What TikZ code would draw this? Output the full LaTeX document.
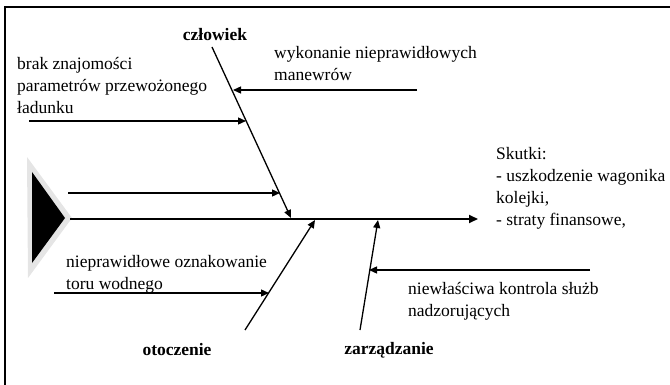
\documentclass[tikz,border=0pt]{standalone}
\usepackage{fontspec}
\setmainfont{Liberation Serif}
\usetikzlibrary{arrows.meta}
\begin{document}
\begin{tikzpicture}[x=1pt,y=-1pt,
  txt/.style={font=\fontsize{17.5}{22}\selectfont, align=left, inner sep=0pt, anchor=north west},
  cat/.style={font=\fontsize{17.5}{22}\selectfont\bfseries, inner sep=0pt},
  arr/.style={line width=1.3pt, -{Triangle[length=8pt,width=7pt]}},
  spine/.style={line width=2pt, -{Triangle[length=9pt,width=8pt]}},
  frame/.style={line width=1.5pt}]
\useasboundingbox (0,0) rectangle (670,385);
% frame (top and left visible)
\draw[frame] (670,7) -- (5,7) -- (5,385);
% head triangle with light shadow
\fill[black!10] (27,157) -- (72,218) -- (28,278) -- cycle;
\fill[black] (32,172) -- (65,218) -- (32,263) -- cycle;
% coordinates
\coordinate (spS) at (70,219);
\coordinate (spE) at (478,219);
\coordinate (c1) at (212,47);
\coordinate (c2) at (291,218);
\coordinate (o1) at (245,330);
\coordinate (o2) at (315,220);
\coordinate (z1) at (360,330);
\coordinate (z2) at (378,220);
\coordinate (aW) at (417,90);
\coordinate (aWe) at (233,90);
\coordinate (aB) at (29,121);
\coordinate (aBe) at (246,121);
\coordinate (aM) at (68,193);
\coordinate (aMe) at (280,193);
\coordinate (aN) at (54,293);
\coordinate (aNe) at (269,293);
\coordinate (aK) at (590,270);
\coordinate (aKe) at (369,270);
% spine and bones
\draw[spine] (spS) -- (spE);
\draw[arr] (c1) -- (c2);
\draw[arr] (o1) -- (o2);
\draw[arr] (z1) -- (z2);
% cause arrows
\draw[arr] (aW) -- (aWe);
\draw[arr] (aB) -- (aBe);
\draw[arr] (aM) -- (aMe);
\draw[arr] (aN) -- (aNe);
\draw[arr] (aK) -- (aKe);
% labels
\node[cat] (lc) at (215,35) {człowiek};
\node[cat] (lo) at (177,350) {otoczenie};
\node[cat] (lz) at (389,350) {zarządzanie};
\node[txt] (tB) at (17,57) {brak znajomości\\parametrów przewożonego\\ładunku};
\node[txt] (tW) at (274,46) {wykonanie nieprawidłowych\\manewrów};
\node[txt] (tS) at (496,147) {Skutki:\\- uszkodzenie wagonika\\kolejki,\\- straty finansowe,};
\node[txt] (tN) at (66,255) {nieprawidłowe oznakowanie\\toru wodnego};
\node[txt] (tK) at (408,282) {niewłaściwa kontrola służb\\nadzorujących};
\end{tikzpicture}
\end{document}
